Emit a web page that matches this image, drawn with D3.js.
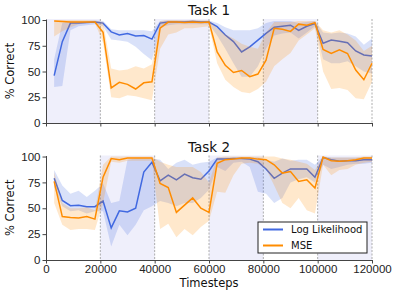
<!DOCTYPE html>
<html>
<head>
<meta charset="utf-8">
<script src="https://cdn.jsdelivr.net/npm/d3@7"></script>
<style>
  body { margin: 0; background: #fff; }
  svg { font-family: "DejaVu Sans", sans-serif; }
  .axis path, .axis line { stroke: #444; }
  .axis text { fill: #222; font-size: 11.5px; }
</style>
</head>
<body>
<svg id="chart" width="399" height="295"></svg>
<script>
// x positions of the evaluation points
const steps = [3000, 6000, 9000, 12000, 15000, 18000, 21000, 24000, 27000, 30000,
  33000, 36000, 39000, 42000, 45000, 48000, 51000, 54000, 57000, 60000,
  63000, 66000, 69000, 72000, 75000, 78000, 81000, 84000, 87000, 90000,
  93000, 96000, 99000, 102000, 105000, 108000, 111000, 114000, 117000, 120000];

const xTicks = [0, 20000, 40000, 60000, 80000, 100000, 120000];
const yTicks = [0, 25, 50, 75, 100];
const boundaries = [20000, 40000, 60000, 80000, 100000, 120000];

// Task 1
const t1Spans = [[0, 20000], [40000, 60000], [80000, 100000]];
const t1LL = [46, 79, 97, 97, 97.5, 98, 97, 88.5, 85.5, 87, 84.5, 85, 81.5, 97, 98, 98, 98, 98.5, 98, 98,
  93.5, 85.5, 79, 69, 74, 80.5, 87, 93, 94, 95, 90, 94, 96.5, 77.5, 80.5, 79.5, 78, 70, 66, 65];
const t1LLlo = [35, 36, 90, 94, 95, 96, 94, 81, 80, 79, 74, 67, 61, 93, 95, 96, 96, 96, 96, 96,
  85, 72, 58, 45, 45, 55, 72, 85, 87, 88, 82, 88, 94, 62, 58, 58, 60, 55, 50, 48];
const t1LLhi = [62, 97, 99, 99, 99, 99.5, 99, 91, 90, 90, 90, 90, 89, 99, 99.5, 99.5, 99.5, 100, 99.5, 99.5,
  97, 93, 90, 90, 90, 92, 97, 99, 99, 99, 97, 98, 99, 88, 87, 88, 87, 84, 76, 82];
const t1MSE = [99, 98.5, 98, 98, 98, 98, 88, 34, 39.5, 37.5, 33, 39, 40, 92, 98, 98, 97.5, 98, 97.5, 98,
  69, 56, 49, 51, 45, 47.5, 61, 92, 91, 89, 96, 95, 97.5, 71.5, 67.5, 71, 67.5, 51.5, 42, 58];
const t1MSElo = [84, 89, 93, 96, 97, 97, 78, 25, 24, 27, 26, 24, 22, 72, 86, 88, 92, 92, 93, 94,
  58, 42, 35, 30, 29, 33, 40, 55, 62, 68, 80, 86, 92, 50, 33, 34, 32, 24, 23, 40];
const t1MSEhi = [100, 100, 100, 100, 100, 99.5, 98, 53, 51, 52, 55, 53, 57, 99, 100, 100, 99.5, 100, 99.5, 99.5,
  92, 86, 82, 77, 74, 72, 88, 98, 98, 98, 99, 99, 99, 90, 88, 90, 86, 80, 70, 75];

// Task 2
const t2Spans = [[20000, 40000], [60000, 80000], [100000, 120000]];
const t2LL = [79, 57.5, 52.5, 53, 51.5, 51.5, 57, 31, 47.5, 46.5, 50, 85, 94.5, 76.5, 82, 77.5, 83, 79.5, 78, 86,
  97.5, 97.5, 98, 98, 97.5, 95, 88, 79, 84, 88, 88, 88, 80, 99, 97, 95.5, 96, 96, 97, 97];
const t2LLlo = [70, 52, 47, 48, 45, 47, 47, 13, 34, 24, 34, 48, 52, 57, 55, 52, 55, 55, 60, 68,
  90, 86, 94, 95, 90, 66, 64, 55, 60, 75, 78, 80, 75, 92, 88, 90, 92, 93, 93, 94];
const t2LLhi = [87, 72, 64, 67, 61, 67, 74, 55, 57, 97, 98, 98, 98, 97, 88, 94, 97, 92, 94, 95,
  99, 99, 99, 99, 99, 99, 97, 95, 98, 96, 97, 97, 92, 100, 99, 99, 99, 99, 99, 99];
const t2MSE = [76, 42, 41, 40.5, 42, 39.5, 80, 98, 97, 98.5, 98.5, 98.5, 98.5, 74, 70, 46, 53, 60, 50, 46,
  93.5, 97, 97.5, 98.5, 98.5, 97.5, 97, 92, 84, 85.5, 76, 77.5, 69.5, 99.5, 96, 95.5, 96, 97, 98.5, 98.5];
const t2MSElo = [55, 34, 29, 30, 30, 29, 55, 95, 94, 96, 96, 96, 96, 30, 35, 22, 30, 24, 32, 38,
  66, 65, 82, 93, 94, 93, 88, 72, 55, 50, 60, 48, 45, 92, 82, 87, 88, 92, 94, 95];
const t2MSEhi = [85, 55, 50, 50, 51, 48, 92, 100, 100, 100, 100, 100, 100, 95, 92, 90, 90, 90, 85, 75,
  99, 100, 100, 100, 100, 100, 100, 100, 98, 97, 95, 93, 87, 100, 99, 99, 99, 99, 100, 100];

const seriesNames = ["Log Likelihood", "MSE"];
const colors = ["#4169e1", "#ff8c00"];

const svg = d3.select("#chart");
const x = d3.scaleLinear().domain([0, 120000]).range([46, 372]);

function panel(top, bottom, title, spans, ll, llLo, llHi, mse, mseLo, mseHi, showXLabels) {
  const y = d3.scaleLinear().domain([0, 101]).range([bottom, top]);
  const g = svg.append("g");

  g.selectAll("rect.span").data(spans).enter().append("rect")
    .attr("class", "span")
    .attr("x", d => x(d[0])).attr("width", d => x(d[1]) - x(d[0]))
    .attr("y", top).attr("height", bottom - top)
    .attr("fill", "#efeffb");

  g.selectAll("line.bound").data(boundaries).enter().append("line")
    .attr("class", "bound")
    .attr("x1", d => x(d)).attr("x2", d => x(d))
    .attr("y1", top).attr("y2", bottom)
    .attr("stroke", "#999").attr("stroke-width", 0.8)
    .attr("stroke-dasharray", "2,1.5");

  const sets = [[ll, llLo, llHi], [mse, mseLo, mseHi]];
  sets.forEach((s, i) => {
    const pts = steps.map((t, j) => ({ t: t, v: s[0][j], lo: s[1][j], hi: s[2][j] }));
    g.append("path").datum(pts)
      .attr("d", d3.area().x(d => x(d.t)).y0(d => y(d.lo)).y1(d => y(d.hi)))
      .attr("fill", colors[i]).attr("fill-opacity", 0.2);
    g.append("path").datum(pts)
      .attr("d", d3.line().x(d => x(d.t)).y(d => y(d.v)))
      .attr("fill", "none").attr("stroke", colors[i]).attr("stroke-width", 1.5);
  });

  g.append("g").attr("class", "axis")
    .attr("transform", `translate(0,${bottom})`)
    .call(d3.axisBottom(x).tickValues(xTicks).tickSize(3.5).tickSizeOuter(0).tickPadding(1.5)
      .tickFormat(showXLabels ? d3.format("d") : ""));

  g.append("g").attr("class", "axis")
    .attr("transform", `translate(${x(0)},0)`)
    .call(d3.axisLeft(y).tickValues(yTicks).tickSize(3.5).tickSizeOuter(0).tickPadding(2));

  g.append("text").attr("x", (x(0) + x(120000)) / 2).attr("y", top - 4)
    .attr("text-anchor", "middle").attr("font-size", 13.5).attr("fill", "#111")
    .text(title);

  g.append("text")
    .attr("transform", `translate(14,${(top + bottom) / 2}) rotate(-90)`)
    .attr("text-anchor", "middle").attr("font-size", 11.5).attr("fill", "#111")
    .text("% Correct");
}

panel(19, 123, "Task 1", t1Spans, t1LL, t1LLlo, t1LLhi, t1MSE, t1MSElo, t1MSEhi, false);
panel(155.5, 260, "Task 2", t2Spans, t2LL, t2LLlo, t2LLhi, t2MSE, t2MSElo, t2MSEhi, true);

svg.append("text").attr("x", 209).attr("y", 287)
  .attr("text-anchor", "middle").attr("font-size", 11.5).attr("fill", "#111")
  .text("Timesteps");

// legend
const lg = svg.append("g").attr("transform", "translate(258,222)");
lg.append("rect").attr("width", 109).attr("height", 31)
  .attr("fill", "#fff").attr("stroke", "#222").attr("stroke-width", 1);
seriesNames.forEach((n, i) => {
  lg.append("line").attr("x1", 5).attr("x2", 25)
    .attr("y1", 7.5 + i * 16).attr("y2", 7.5 + i * 16)
    .attr("stroke", colors[i]).attr("stroke-width", 2);
  lg.append("text").attr("x", 33).attr("y", 11 + i * 16)
    .attr("font-size", 10).attr("fill", "#111").text(n);
});
</script>
</body>
</html>
